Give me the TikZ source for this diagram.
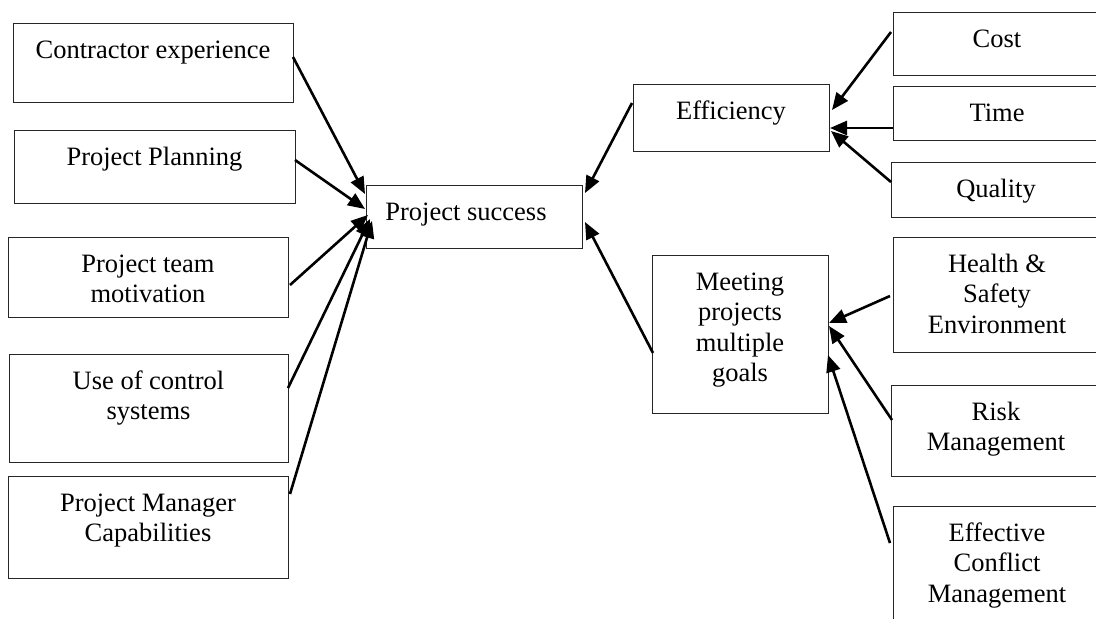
\documentclass[tikz,border=0pt]{standalone}
\usepackage{fontspec}
\setmainfont{Liberation Serif}
\usetikzlibrary{arrows.meta}
\newcommand{\bxtext}[3]{\parbox[c][#2][t]{#1}{\centering\fontsize{26.5pt}{30.5pt}\selectfont\rule{0pt}{35pt}#3\par}}
\tikzset{
  box/.style={draw=black!85, line width=0.9pt, inner sep=0pt, outer sep=0pt, anchor=north west},
  conn/.style={line width=2.6pt, -{Triangle[length=17pt,width=14pt]}}
}
\begin{document}
\begin{tikzpicture}[x=1pt,y=-1pt]
\useasboundingbox (0,0) rectangle (1096,619);
\clip (0,0) rectangle (1096,619);
\fill[white] (0,0) rectangle (1096,619);
% left column
\node[box] (contr) at (13,23)  {\bxtext{280pt}{79pt}{Contractor experience}};
\node[box] (plan)  at (14,130) {\bxtext{281pt}{73pt}{Project Planning}};
\node[box] (team)  at (8,237)  {\bxtext{280pt}{80pt}{Project team\\motivation}};
\node[box] (use)   at (9,354)  {\bxtext{279pt}{108pt}{Use of control\\systems}};
\node[box] (pm)    at (8,476)  {\bxtext{280pt}{102pt}{Project Manager\\Capabilities}};
% centre
\node[box] (ps)    at (366,185) {\bxtext{216pt}{63pt}{Project success\hspace*{16pt}}};
\node[box] (eff)   at (633,84)  {\bxtext{196pt}{67pt}{Efficiency}};
\node[box] (meet)  at (652,255) {\bxtext{176pt}{158pt}{Meeting\\projects\\multiple\\goals}};
% right column
\node[box] (cost)   at (893,12)  {\bxtext{208pt}{63pt}{Cost}};
\node[box] (time)   at (893,86)  {\bxtext{208pt}{54pt}{Time}};
\node[box] (qual)   at (891,162) {\bxtext{210pt}{55pt}{Quality}};
\node[box] (health) at (893,237) {\bxtext{208pt}{115pt}{Health \&\\Safety\\Environment}};
\node[box] (risk)   at (891,385) {\bxtext{210pt}{91pt}{Risk\\Management}};
\node[box] (effc)   at (893,506) {\bxtext{208pt}{140pt}{Effective\\Conflict\\Management}};
% connectors to project success
\draw[conn] ([yshift=5.5pt]contr.east) -- ([xshift=-1pt,yshift=22.5pt]ps.west);
\draw[conn] ([yshift=6.5pt]plan.east) -- ([xshift=-1pt,yshift=7.5pt]ps.west);
\draw[conn] ([xshift=2pt,yshift=-8pt]team.east) -- ([xshift=2pt,yshift=1.5pt]ps.west);
\draw[conn] ([yshift=20pt]use.east) -- ([xshift=4pt,yshift=-2.5pt]ps.west);
\draw[conn] ([xshift=2pt,yshift=33pt]pm.east) -- ([xshift=6pt,yshift=-4.5pt]ps.west);
\draw[conn] ([xshift=-1pt,yshift=14.5pt]eff.west) -- ([xshift=3pt,yshift=23.5pt]ps.east);
\draw[conn] ([xshift=1pt,yshift=-19pt]meet.west) -- ([xshift=3pt,yshift=-5.5pt]ps.east);
% connectors to efficiency
\draw[conn] ([xshift=-2pt,yshift=11.5pt]cost.west) -- ([xshift=3pt,yshift=7.5pt]eff.east);
\draw[conn] ([yshift=-15pt]time.west) -- ([xshift=1pt,yshift=-10.5pt]eff.east);
\draw[conn] ([yshift=7.5pt]qual.west) -- ([xshift=2pt,yshift=-13.5pt]eff.east);
% connectors to meeting goals
\draw[conn] ([xshift=-3pt,yshift=-1.5pt]health.west) -- ([xshift=1pt,yshift=11pt]meet.east);
\draw[conn] ([xshift=1pt,yshift=10.5pt]risk.west) -- ([xshift=1pt,yshift=8pt]meet.east);
\draw[conn] ([xshift=-3pt,yshift=33pt]effc.west) -- ([yshift=-21pt]meet.east);
\end{tikzpicture}
\end{document}
